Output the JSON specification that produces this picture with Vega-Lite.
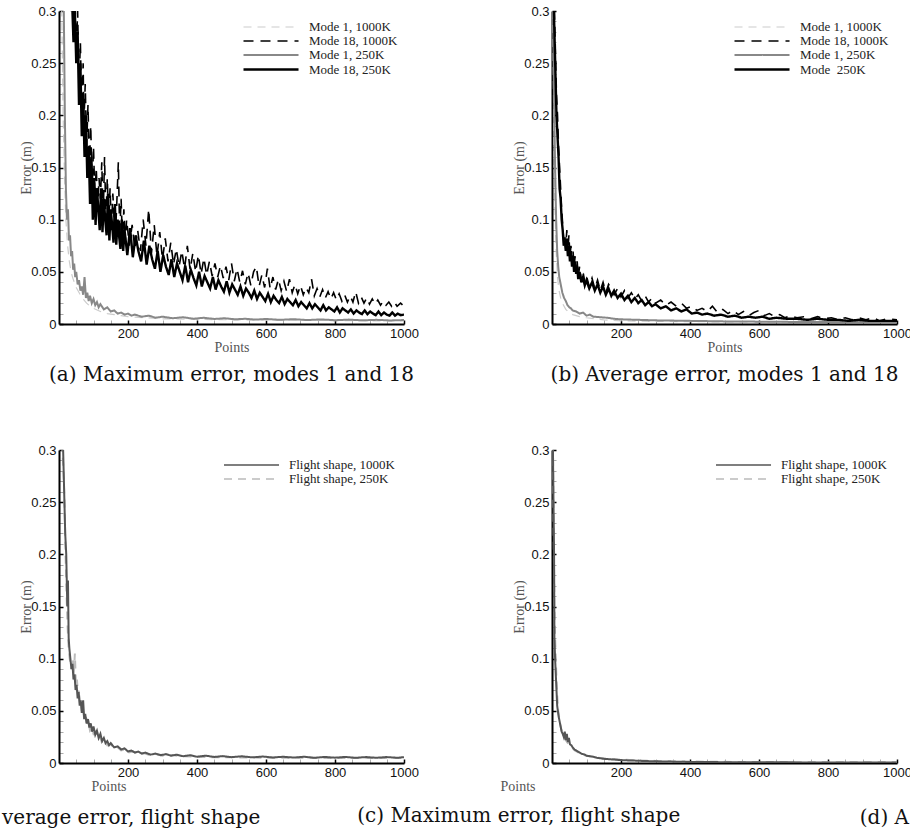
{
  "$schema": "https://vega.github.io/schema/vega-lite/v6.json",
  "padding": {"left": 2, "top": 5, "right": 0, "bottom": 0},
  "background": "white",
  "config": {
    "view": {"stroke": null},
    "font": "Liberation Sans",
    "title": {"font": "DejaVu Serif", "fontSize": 20, "fontWeight": "normal", "color": "#111"},
    "axis": {
      "domainColor": "#000", "domainWidth": 2,
      "tickSize": -4, "labelPadding": 7, "labelFont": "Liberation Sans", "labelFontSize": 13,
      "labelColor": "#111", "labelFlush": false, "labelOverlap": false, "grid": false, "titleFont": "Liberation Serif", "titleFontSize": 14,
      "titleFontWeight": "normal", "titleColor": "#555"
    },
    "legend": {
      "title": null, "symbolType": "M-1,0H8.17", "symbolSize": 144,
      "labelFont": "Liberation Serif", "labelFontSize": 13, "labelColor": "#222", "rowPadding": 0,
      "labelOffset": 52, "padding": 0
    },
    "line": {"clip": true}
  },
  "datasets": {
    "a": [
      {"s":"Mode 1, 1000K","x":3,"y":0.45},{"s":"Mode 1, 1000K","x":8,"y":0.3},{"s":"Mode 1, 1000K","x":12,"y":0.2},{"s":"Mode 1, 1000K","x":16,"y":0.14},{"s":"Mode 1, 1000K","x":20,"y":0.1},{"s":"Mode 1, 1000K","x":25,"y":0.075},{"s":"Mode 1, 1000K","x":30,"y":0.06},{"s":"Mode 1, 1000K","x":35,"y":0.05},{"s":"Mode 1, 1000K","x":40,"y":0.044},{"s":"Mode 1, 1000K","x":50,"y":0.035},{"s":"Mode 1, 1000K","x":60,"y":0.029},{"s":"Mode 1, 1000K","x":70,"y":0.024},{"s":"Mode 1, 1000K","x":80,"y":0.02},{"s":"Mode 1, 1000K","x":90,"y":0.017},{"s":"Mode 1, 1000K","x":100,"y":0.015},{"s":"Mode 1, 1000K","x":120,"y":0.012},{"s":"Mode 1, 1000K","x":140,"y":0.01},{"s":"Mode 1, 1000K","x":160,"y":0.009},{"s":"Mode 1, 1000K","x":180,"y":0.008},{"s":"Mode 1, 1000K","x":200,"y":0.007},{"s":"Mode 1, 1000K","x":250,"y":0.006},{"s":"Mode 1, 1000K","x":300,"y":0.005},{"s":"Mode 1, 1000K","x":400,"y":0.0045},{"s":"Mode 1, 1000K","x":500,"y":0.004},{"s":"Mode 1, 1000K","x":600,"y":0.0038},{"s":"Mode 1, 1000K","x":700,"y":0.0035},{"s":"Mode 1, 1000K","x":800,"y":0.0033},{"s":"Mode 1, 1000K","x":900,"y":0.003},{"s":"Mode 1, 1000K","x":1000,"y":0.003},
      {"s":"Mode 1, 250K","x":10,"y":0.35},{"s":"Mode 1, 250K","x":14,"y":0.3},{"s":"Mode 1, 250K","x":17,"y":0.2},{"s":"Mode 1, 250K","x":20,"y":0.13},{"s":"Mode 1, 250K","x":23,"y":0.1},{"s":"Mode 1, 250K","x":26,"y":0.11},{"s":"Mode 1, 250K","x":29,"y":0.08},{"s":"Mode 1, 250K","x":32,"y":0.085},{"s":"Mode 1, 250K","x":35,"y":0.065},{"s":"Mode 1, 250K","x":38,"y":0.07},{"s":"Mode 1, 250K","x":41,"y":0.052},{"s":"Mode 1, 250K","x":44,"y":0.058},{"s":"Mode 1, 250K","x":47,"y":0.045},{"s":"Mode 1, 250K","x":50,"y":0.05},{"s":"Mode 1, 250K","x":54,"y":0.038},{"s":"Mode 1, 250K","x":58,"y":0.042},{"s":"Mode 1, 250K","x":62,"y":0.032},{"s":"Mode 1, 250K","x":66,"y":0.036},{"s":"Mode 1, 250K","x":70,"y":0.028},{"s":"Mode 1, 250K","x":74,"y":0.045},{"s":"Mode 1, 250K","x":78,"y":0.025},{"s":"Mode 1, 250K","x":82,"y":0.03},{"s":"Mode 1, 250K","x":86,"y":0.022},{"s":"Mode 1, 250K","x":90,"y":0.027},{"s":"Mode 1, 250K","x":95,"y":0.02},{"s":"Mode 1, 250K","x":100,"y":0.024},{"s":"Mode 1, 250K","x":105,"y":0.018},{"s":"Mode 1, 250K","x":110,"y":0.021},{"s":"Mode 1, 250K","x":115,"y":0.016},{"s":"Mode 1, 250K","x":120,"y":0.019},{"s":"Mode 1, 250K","x":130,"y":0.014},{"s":"Mode 1, 250K","x":140,"y":0.016},{"s":"Mode 1, 250K","x":150,"y":0.012},{"s":"Mode 1, 250K","x":160,"y":0.013},{"s":"Mode 1, 250K","x":170,"y":0.01},{"s":"Mode 1, 250K","x":180,"y":0.011},{"s":"Mode 1, 250K","x":190,"y":0.009},{"s":"Mode 1, 250K","x":200,"y":0.01},{"s":"Mode 1, 250K","x":210,"y":0.008},{"s":"Mode 1, 250K","x":220,"y":0.009},{"s":"Mode 1, 250K","x":240,"y":0.007},{"s":"Mode 1, 250K","x":260,"y":0.008},{"s":"Mode 1, 250K","x":280,"y":0.006},{"s":"Mode 1, 250K","x":300,"y":0.007},{"s":"Mode 1, 250K","x":330,"y":0.0055},{"s":"Mode 1, 250K","x":360,"y":0.0065},{"s":"Mode 1, 250K","x":390,"y":0.005},{"s":"Mode 1, 250K","x":420,"y":0.006},{"s":"Mode 1, 250K","x":450,"y":0.0048},{"s":"Mode 1, 250K","x":480,"y":0.0055},{"s":"Mode 1, 250K","x":510,"y":0.0045},{"s":"Mode 1, 250K","x":540,"y":0.005},{"s":"Mode 1, 250K","x":570,"y":0.0042},{"s":"Mode 1, 250K","x":600,"y":0.0048},{"s":"Mode 1, 250K","x":640,"y":0.004},{"s":"Mode 1, 250K","x":680,"y":0.0046},{"s":"Mode 1, 250K","x":720,"y":0.0038},{"s":"Mode 1, 250K","x":760,"y":0.0044},{"s":"Mode 1, 250K","x":800,"y":0.0036},{"s":"Mode 1, 250K","x":840,"y":0.0042},{"s":"Mode 1, 250K","x":880,"y":0.0035},{"s":"Mode 1, 250K","x":920,"y":0.004},{"s":"Mode 1, 250K","x":960,"y":0.0034},{"s":"Mode 1, 250K","x":1000,"y":0.0038},
      {"s":"Mode 18, 1000K","x":30,"y":0.42},{"s":"Mode 18, 1000K","x":34,"y":0.32},{"s":"Mode 18, 1000K","x":38,"y":0.33},{"s":"Mode 18, 1000K","x":42,"y":0.28},{"s":"Mode 18, 1000K","x":46,"y":0.31},{"s":"Mode 18, 1000K","x":50,"y":0.26},{"s":"Mode 18, 1000K","x":54,"y":0.3},{"s":"Mode 18, 1000K","x":58,"y":0.23},{"s":"Mode 18, 1000K","x":62,"y":0.27},{"s":"Mode 18, 1000K","x":66,"y":0.2},{"s":"Mode 18, 1000K","x":70,"y":0.25},{"s":"Mode 18, 1000K","x":72,"y":0.19},{"s":"Mode 18, 1000K","x":76,"y":0.23},{"s":"Mode 18, 1000K","x":80,"y":0.17},{"s":"Mode 18, 1000K","x":84,"y":0.21},{"s":"Mode 18, 1000K","x":88,"y":0.15},{"s":"Mode 18, 1000K","x":92,"y":0.19},{"s":"Mode 18, 1000K","x":96,"y":0.13},{"s":"Mode 18, 1000K","x":100,"y":0.17},{"s":"Mode 18, 1000K","x":104,"y":0.12},{"s":"Mode 18, 1000K","x":108,"y":0.15},{"s":"Mode 18, 1000K","x":112,"y":0.11},{"s":"Mode 18, 1000K","x":116,"y":0.14},{"s":"Mode 18, 1000K","x":120,"y":0.12},{"s":"Mode 18, 1000K","x":124,"y":0.155},{"s":"Mode 18, 1000K","x":128,"y":0.1},{"s":"Mode 18, 1000K","x":132,"y":0.16},{"s":"Mode 18, 1000K","x":136,"y":0.1},{"s":"Mode 18, 1000K","x":140,"y":0.14},{"s":"Mode 18, 1000K","x":144,"y":0.095},{"s":"Mode 18, 1000K","x":148,"y":0.13},{"s":"Mode 18, 1000K","x":152,"y":0.09},{"s":"Mode 18, 1000K","x":156,"y":0.125},{"s":"Mode 18, 1000K","x":160,"y":0.1},{"s":"Mode 18, 1000K","x":164,"y":0.088},{"s":"Mode 18, 1000K","x":168,"y":0.12},{"s":"Mode 18, 1000K","x":172,"y":0.155},{"s":"Mode 18, 1000K","x":176,"y":0.085},{"s":"Mode 18, 1000K","x":180,"y":0.12},{"s":"Mode 18, 1000K","x":184,"y":0.08},{"s":"Mode 18, 1000K","x":188,"y":0.11},{"s":"Mode 18, 1000K","x":192,"y":0.078},{"s":"Mode 18, 1000K","x":196,"y":0.1},{"s":"Mode 18, 1000K","x":204,"y":0.075},{"s":"Mode 18, 1000K","x":212,"y":0.095},{"s":"Mode 18, 1000K","x":220,"y":0.072},{"s":"Mode 18, 1000K","x":228,"y":0.09},{"s":"Mode 18, 1000K","x":236,"y":0.07},{"s":"Mode 18, 1000K","x":244,"y":0.1},{"s":"Mode 18, 1000K","x":252,"y":0.075},{"s":"Mode 18, 1000K","x":260,"y":0.11},{"s":"Mode 18, 1000K","x":268,"y":0.068},{"s":"Mode 18, 1000K","x":276,"y":0.095},{"s":"Mode 18, 1000K","x":284,"y":0.065},{"s":"Mode 18, 1000K","x":292,"y":0.088},{"s":"Mode 18, 1000K","x":300,"y":0.062},{"s":"Mode 18, 1000K","x":308,"y":0.082},{"s":"Mode 18, 1000K","x":316,"y":0.06},{"s":"Mode 18, 1000K","x":324,"y":0.078},{"s":"Mode 18, 1000K","x":332,"y":0.057},{"s":"Mode 18, 1000K","x":340,"y":0.072},{"s":"Mode 18, 1000K","x":348,"y":0.055},{"s":"Mode 18, 1000K","x":356,"y":0.07},{"s":"Mode 18, 1000K","x":364,"y":0.053},{"s":"Mode 18, 1000K","x":372,"y":0.075},{"s":"Mode 18, 1000K","x":380,"y":0.052},{"s":"Mode 18, 1000K","x":388,"y":0.068},{"s":"Mode 18, 1000K","x":396,"y":0.05},{"s":"Mode 18, 1000K","x":404,"y":0.066},{"s":"Mode 18, 1000K","x":412,"y":0.048},{"s":"Mode 18, 1000K","x":420,"y":0.063},{"s":"Mode 18, 1000K","x":428,"y":0.047},{"s":"Mode 18, 1000K","x":436,"y":0.06},{"s":"Mode 18, 1000K","x":444,"y":0.046},{"s":"Mode 18, 1000K","x":452,"y":0.058},{"s":"Mode 18, 1000K","x":460,"y":0.045},{"s":"Mode 18, 1000K","x":468,"y":0.056},{"s":"Mode 18, 1000K","x":476,"y":0.044},{"s":"Mode 18, 1000K","x":484,"y":0.055},{"s":"Mode 18, 1000K","x":492,"y":0.042},{"s":"Mode 18, 1000K","x":500,"y":0.058},{"s":"Mode 18, 1000K","x":508,"y":0.041},{"s":"Mode 18, 1000K","x":516,"y":0.053},{"s":"Mode 18, 1000K","x":524,"y":0.04},{"s":"Mode 18, 1000K","x":532,"y":0.051},{"s":"Mode 18, 1000K","x":540,"y":0.038},{"s":"Mode 18, 1000K","x":548,"y":0.049},{"s":"Mode 18, 1000K","x":556,"y":0.037},{"s":"Mode 18, 1000K","x":564,"y":0.05},{"s":"Mode 18, 1000K","x":572,"y":0.055},{"s":"Mode 18, 1000K","x":580,"y":0.036},{"s":"Mode 18, 1000K","x":588,"y":0.047},{"s":"Mode 18, 1000K","x":596,"y":0.035},{"s":"Mode 18, 1000K","x":604,"y":0.053},{"s":"Mode 18, 1000K","x":612,"y":0.034},{"s":"Mode 18, 1000K","x":620,"y":0.045},{"s":"Mode 18, 1000K","x":628,"y":0.033},{"s":"Mode 18, 1000K","x":636,"y":0.043},{"s":"Mode 18, 1000K","x":644,"y":0.032},{"s":"Mode 18, 1000K","x":652,"y":0.041},{"s":"Mode 18, 1000K","x":660,"y":0.031},{"s":"Mode 18, 1000K","x":668,"y":0.043},{"s":"Mode 18, 1000K","x":676,"y":0.03},{"s":"Mode 18, 1000K","x":684,"y":0.038},{"s":"Mode 18, 1000K","x":692,"y":0.029},{"s":"Mode 18, 1000K","x":700,"y":0.037},{"s":"Mode 18, 1000K","x":708,"y":0.028},{"s":"Mode 18, 1000K","x":716,"y":0.035},{"s":"Mode 18, 1000K","x":724,"y":0.03},{"s":"Mode 18, 1000K","x":732,"y":0.043},{"s":"Mode 18, 1000K","x":740,"y":0.027},{"s":"Mode 18, 1000K","x":748,"y":0.034},{"s":"Mode 18, 1000K","x":756,"y":0.026},{"s":"Mode 18, 1000K","x":764,"y":0.033},{"s":"Mode 18, 1000K","x":772,"y":0.025},{"s":"Mode 18, 1000K","x":780,"y":0.031},{"s":"Mode 18, 1000K","x":788,"y":0.024},{"s":"Mode 18, 1000K","x":796,"y":0.03},{"s":"Mode 18, 1000K","x":804,"y":0.023},{"s":"Mode 18, 1000K","x":812,"y":0.029},{"s":"Mode 18, 1000K","x":820,"y":0.022},{"s":"Mode 18, 1000K","x":828,"y":0.028},{"s":"Mode 18, 1000K","x":836,"y":0.021},{"s":"Mode 18, 1000K","x":844,"y":0.027},{"s":"Mode 18, 1000K","x":852,"y":0.021},{"s":"Mode 18, 1000K","x":860,"y":0.031},{"s":"Mode 18, 1000K","x":868,"y":0.02},{"s":"Mode 18, 1000K","x":876,"y":0.026},{"s":"Mode 18, 1000K","x":884,"y":0.02},{"s":"Mode 18, 1000K","x":892,"y":0.025},{"s":"Mode 18, 1000K","x":900,"y":0.019},{"s":"Mode 18, 1000K","x":908,"y":0.024},{"s":"Mode 18, 1000K","x":916,"y":0.019},{"s":"Mode 18, 1000K","x":924,"y":0.023},{"s":"Mode 18, 1000K","x":932,"y":0.018},{"s":"Mode 18, 1000K","x":940,"y":0.022},{"s":"Mode 18, 1000K","x":948,"y":0.018},{"s":"Mode 18, 1000K","x":956,"y":0.021},{"s":"Mode 18, 1000K","x":964,"y":0.017},{"s":"Mode 18, 1000K","x":972,"y":0.021},{"s":"Mode 18, 1000K","x":980,"y":0.017},{"s":"Mode 18, 1000K","x":990,"y":0.02},{"s":"Mode 18, 1000K","x":1000,"y":0.017},
      {"s":"Mode 18, 250K","x":30,"y":0.4},{"s":"Mode 18, 250K","x":34,"y":0.3},{"s":"Mode 18, 250K","x":38,"y":0.31},{"s":"Mode 18, 250K","x":42,"y":0.27},{"s":"Mode 18, 250K","x":46,"y":0.3},{"s":"Mode 18, 250K","x":50,"y":0.25},{"s":"Mode 18, 250K","x":54,"y":0.28},{"s":"Mode 18, 250K","x":58,"y":0.21},{"s":"Mode 18, 250K","x":62,"y":0.25},{"s":"Mode 18, 250K","x":66,"y":0.18},{"s":"Mode 18, 250K","x":70,"y":0.22},{"s":"Mode 18, 250K","x":74,"y":0.16},{"s":"Mode 18, 250K","x":78,"y":0.2},{"s":"Mode 18, 250K","x":82,"y":0.14},{"s":"Mode 18, 250K","x":86,"y":0.17},{"s":"Mode 18, 250K","x":90,"y":0.115},{"s":"Mode 18, 250K","x":94,"y":0.16},{"s":"Mode 18, 250K","x":98,"y":0.1},{"s":"Mode 18, 250K","x":102,"y":0.14},{"s":"Mode 18, 250K","x":106,"y":0.095},{"s":"Mode 18, 250K","x":110,"y":0.13},{"s":"Mode 18, 250K","x":114,"y":0.11},{"s":"Mode 18, 250K","x":118,"y":0.09},{"s":"Mode 18, 250K","x":122,"y":0.13},{"s":"Mode 18, 250K","x":126,"y":0.088},{"s":"Mode 18, 250K","x":130,"y":0.12},{"s":"Mode 18, 250K","x":134,"y":0.1},{"s":"Mode 18, 250K","x":138,"y":0.085},{"s":"Mode 18, 250K","x":142,"y":0.125},{"s":"Mode 18, 250K","x":146,"y":0.08},{"s":"Mode 18, 250K","x":150,"y":0.11},{"s":"Mode 18, 250K","x":154,"y":0.095},{"s":"Mode 18, 250K","x":158,"y":0.078},{"s":"Mode 18, 250K","x":162,"y":0.115},{"s":"Mode 18, 250K","x":166,"y":0.076},{"s":"Mode 18, 250K","x":170,"y":0.1},{"s":"Mode 18, 250K","x":174,"y":0.085},{"s":"Mode 18, 250K","x":178,"y":0.072},{"s":"Mode 18, 250K","x":182,"y":0.1},{"s":"Mode 18, 250K","x":186,"y":0.07},{"s":"Mode 18, 250K","x":190,"y":0.09},{"s":"Mode 18, 250K","x":194,"y":0.078},{"s":"Mode 18, 250K","x":198,"y":0.066},{"s":"Mode 18, 250K","x":206,"y":0.092},{"s":"Mode 18, 250K","x":214,"y":0.064},{"s":"Mode 18, 250K","x":222,"y":0.085},{"s":"Mode 18, 250K","x":230,"y":0.07},{"s":"Mode 18, 250K","x":238,"y":0.06},{"s":"Mode 18, 250K","x":246,"y":0.08},{"s":"Mode 18, 250K","x":254,"y":0.057},{"s":"Mode 18, 250K","x":262,"y":0.075},{"s":"Mode 18, 250K","x":270,"y":0.062},{"s":"Mode 18, 250K","x":278,"y":0.053},{"s":"Mode 18, 250K","x":286,"y":0.07},{"s":"Mode 18, 250K","x":294,"y":0.05},{"s":"Mode 18, 250K","x":302,"y":0.066},{"s":"Mode 18, 250K","x":310,"y":0.055},{"s":"Mode 18, 250K","x":318,"y":0.047},{"s":"Mode 18, 250K","x":326,"y":0.062},{"s":"Mode 18, 250K","x":334,"y":0.045},{"s":"Mode 18, 250K","x":342,"y":0.058},{"s":"Mode 18, 250K","x":350,"y":0.05},{"s":"Mode 18, 250K","x":358,"y":0.042},{"s":"Mode 18, 250K","x":366,"y":0.056},{"s":"Mode 18, 250K","x":374,"y":0.04},{"s":"Mode 18, 250K","x":382,"y":0.052},{"s":"Mode 18, 250K","x":390,"y":0.044},{"s":"Mode 18, 250K","x":398,"y":0.037},{"s":"Mode 18, 250K","x":406,"y":0.05},{"s":"Mode 18, 250K","x":414,"y":0.036},{"s":"Mode 18, 250K","x":422,"y":0.046},{"s":"Mode 18, 250K","x":430,"y":0.04},{"s":"Mode 18, 250K","x":438,"y":0.034},{"s":"Mode 18, 250K","x":446,"y":0.045},{"s":"Mode 18, 250K","x":454,"y":0.033},{"s":"Mode 18, 250K","x":462,"y":0.042},{"s":"Mode 18, 250K","x":470,"y":0.036},{"s":"Mode 18, 250K","x":478,"y":0.031},{"s":"Mode 18, 250K","x":486,"y":0.041},{"s":"Mode 18, 250K","x":494,"y":0.03},{"s":"Mode 18, 250K","x":502,"y":0.038},{"s":"Mode 18, 250K","x":510,"y":0.033},{"s":"Mode 18, 250K","x":518,"y":0.028},{"s":"Mode 18, 250K","x":526,"y":0.036},{"s":"Mode 18, 250K","x":534,"y":0.027},{"s":"Mode 18, 250K","x":542,"y":0.034},{"s":"Mode 18, 250K","x":550,"y":0.03},{"s":"Mode 18, 250K","x":558,"y":0.025},{"s":"Mode 18, 250K","x":566,"y":0.032},{"s":"Mode 18, 250K","x":574,"y":0.024},{"s":"Mode 18, 250K","x":582,"y":0.03},{"s":"Mode 18, 250K","x":590,"y":0.026},{"s":"Mode 18, 250K","x":598,"y":0.022},{"s":"Mode 18, 250K","x":606,"y":0.029},{"s":"Mode 18, 250K","x":614,"y":0.021},{"s":"Mode 18, 250K","x":622,"y":0.027},{"s":"Mode 18, 250K","x":630,"y":0.023},{"s":"Mode 18, 250K","x":638,"y":0.02},{"s":"Mode 18, 250K","x":646,"y":0.026},{"s":"Mode 18, 250K","x":654,"y":0.019},{"s":"Mode 18, 250K","x":662,"y":0.024},{"s":"Mode 18, 250K","x":670,"y":0.021},{"s":"Mode 18, 250K","x":678,"y":0.018},{"s":"Mode 18, 250K","x":686,"y":0.023},{"s":"Mode 18, 250K","x":694,"y":0.017},{"s":"Mode 18, 250K","x":702,"y":0.021},{"s":"Mode 18, 250K","x":710,"y":0.018},{"s":"Mode 18, 250K","x":718,"y":0.015},{"s":"Mode 18, 250K","x":726,"y":0.02},{"s":"Mode 18, 250K","x":734,"y":0.015},{"s":"Mode 18, 250K","x":742,"y":0.019},{"s":"Mode 18, 250K","x":750,"y":0.016},{"s":"Mode 18, 250K","x":758,"y":0.013},{"s":"Mode 18, 250K","x":766,"y":0.018},{"s":"Mode 18, 250K","x":774,"y":0.013},{"s":"Mode 18, 250K","x":782,"y":0.016},{"s":"Mode 18, 250K","x":790,"y":0.014},{"s":"Mode 18, 250K","x":798,"y":0.012},{"s":"Mode 18, 250K","x":806,"y":0.016},{"s":"Mode 18, 250K","x":814,"y":0.011},{"s":"Mode 18, 250K","x":822,"y":0.015},{"s":"Mode 18, 250K","x":830,"y":0.013},{"s":"Mode 18, 250K","x":838,"y":0.011},{"s":"Mode 18, 250K","x":846,"y":0.014},{"s":"Mode 18, 250K","x":854,"y":0.01},{"s":"Mode 18, 250K","x":862,"y":0.013},{"s":"Mode 18, 250K","x":870,"y":0.011},{"s":"Mode 18, 250K","x":878,"y":0.0095},{"s":"Mode 18, 250K","x":886,"y":0.013},{"s":"Mode 18, 250K","x":894,"y":0.0095},{"s":"Mode 18, 250K","x":902,"y":0.012},{"s":"Mode 18, 250K","x":910,"y":0.01},{"s":"Mode 18, 250K","x":918,"y":0.0085},{"s":"Mode 18, 250K","x":926,"y":0.012},{"s":"Mode 18, 250K","x":934,"y":0.0085},{"s":"Mode 18, 250K","x":942,"y":0.011},{"s":"Mode 18, 250K","x":950,"y":0.009},{"s":"Mode 18, 250K","x":958,"y":0.008},{"s":"Mode 18, 250K","x":966,"y":0.011},{"s":"Mode 18, 250K","x":974,"y":0.008},{"s":"Mode 18, 250K","x":982,"y":0.01},{"s":"Mode 18, 250K","x":990,"y":0.0085},{"s":"Mode 18, 250K","x":1000,"y":0.009}
    ],
    "b": [
      {"s":"Mode 1, 1000K","x":2,"y":0.3},{"s":"Mode 1, 1000K","x":5,"y":0.2},{"s":"Mode 1, 1000K","x":8,"y":0.12},{"s":"Mode 1, 1000K","x":12,"y":0.07},{"s":"Mode 1, 1000K","x":16,"y":0.045},{"s":"Mode 1, 1000K","x":20,"y":0.033},{"s":"Mode 1, 1000K","x":25,"y":0.025},{"s":"Mode 1, 1000K","x":30,"y":0.02},{"s":"Mode 1, 1000K","x":40,"y":0.014},{"s":"Mode 1, 1000K","x":50,"y":0.011},{"s":"Mode 1, 1000K","x":60,"y":0.009},{"s":"Mode 1, 1000K","x":80,"y":0.007},{"s":"Mode 1, 1000K","x":100,"y":0.006},{"s":"Mode 1, 1000K","x":150,"y":0.004},{"s":"Mode 1, 1000K","x":200,"y":0.003},{"s":"Mode 1, 1000K","x":300,"y":0.0025},{"s":"Mode 1, 1000K","x":500,"y":0.002},{"s":"Mode 1, 1000K","x":700,"y":0.0018},{"s":"Mode 1, 1000K","x":1000,"y":0.0015},
      {"s":"Mode 1, 250K","x":3,"y":0.3},{"s":"Mode 1, 250K","x":6,"y":0.22},{"s":"Mode 1, 250K","x":9,"y":0.15},{"s":"Mode 1, 250K","x":12,"y":0.1},{"s":"Mode 1, 250K","x":15,"y":0.07},{"s":"Mode 1, 250K","x":18,"y":0.055},{"s":"Mode 1, 250K","x":21,"y":0.045},{"s":"Mode 1, 250K","x":24,"y":0.04},{"s":"Mode 1, 250K","x":27,"y":0.035},{"s":"Mode 1, 250K","x":30,"y":0.03},{"s":"Mode 1, 250K","x":35,"y":0.025},{"s":"Mode 1, 250K","x":40,"y":0.022},{"s":"Mode 1, 250K","x":45,"y":0.018},{"s":"Mode 1, 250K","x":50,"y":0.016},{"s":"Mode 1, 250K","x":55,"y":0.015},{"s":"Mode 1, 250K","x":60,"y":0.013},{"s":"Mode 1, 250K","x":70,"y":0.012},{"s":"Mode 1, 250K","x":80,"y":0.01},{"s":"Mode 1, 250K","x":90,"y":0.011},{"s":"Mode 1, 250K","x":100,"y":0.008},{"s":"Mode 1, 250K","x":110,"y":0.009},{"s":"Mode 1, 250K","x":120,"y":0.007},{"s":"Mode 1, 250K","x":140,"y":0.0065},{"s":"Mode 1, 250K","x":160,"y":0.006},{"s":"Mode 1, 250K","x":180,"y":0.005},{"s":"Mode 1, 250K","x":200,"y":0.0045},{"s":"Mode 1, 250K","x":250,"y":0.004},{"s":"Mode 1, 250K","x":300,"y":0.0035},{"s":"Mode 1, 250K","x":400,"y":0.003},{"s":"Mode 1, 250K","x":500,"y":0.0025},{"s":"Mode 1, 250K","x":700,"y":0.002},{"s":"Mode 1, 250K","x":1000,"y":0.0018},
      {"s":"Mode 18, 1000K","x":4,"y":0.35},{"s":"Mode 18, 1000K","x":7,"y":0.3},{"s":"Mode 18, 1000K","x":10,"y":0.26},{"s":"Mode 18, 1000K","x":13,"y":0.22},{"s":"Mode 18, 1000K","x":16,"y":0.2},{"s":"Mode 18, 1000K","x":19,"y":0.17},{"s":"Mode 18, 1000K","x":22,"y":0.15},{"s":"Mode 18, 1000K","x":25,"y":0.13},{"s":"Mode 18, 1000K","x":28,"y":0.11},{"s":"Mode 18, 1000K","x":31,"y":0.095},{"s":"Mode 18, 1000K","x":34,"y":0.08},{"s":"Mode 18, 1000K","x":37,"y":0.085},{"s":"Mode 18, 1000K","x":40,"y":0.075},{"s":"Mode 18, 1000K","x":43,"y":0.09},{"s":"Mode 18, 1000K","x":46,"y":0.07},{"s":"Mode 18, 1000K","x":49,"y":0.085},{"s":"Mode 18, 1000K","x":52,"y":0.065},{"s":"Mode 18, 1000K","x":55,"y":0.075},{"s":"Mode 18, 1000K","x":58,"y":0.06},{"s":"Mode 18, 1000K","x":61,"y":0.07},{"s":"Mode 18, 1000K","x":64,"y":0.055},{"s":"Mode 18, 1000K","x":67,"y":0.065},{"s":"Mode 18, 1000K","x":70,"y":0.05},{"s":"Mode 18, 1000K","x":73,"y":0.06},{"s":"Mode 18, 1000K","x":76,"y":0.045},{"s":"Mode 18, 1000K","x":80,"y":0.055},{"s":"Mode 18, 1000K","x":85,"y":0.042},{"s":"Mode 18, 1000K","x":90,"y":0.05},{"s":"Mode 18, 1000K","x":95,"y":0.04},{"s":"Mode 18, 1000K","x":100,"y":0.046},{"s":"Mode 18, 1000K","x":108,"y":0.036},{"s":"Mode 18, 1000K","x":116,"y":0.044},{"s":"Mode 18, 1000K","x":124,"y":0.034},{"s":"Mode 18, 1000K","x":132,"y":0.042},{"s":"Mode 18, 1000K","x":140,"y":0.032},{"s":"Mode 18, 1000K","x":148,"y":0.04},{"s":"Mode 18, 1000K","x":156,"y":0.03},{"s":"Mode 18, 1000K","x":164,"y":0.038},{"s":"Mode 18, 1000K","x":172,"y":0.034},{"s":"Mode 18, 1000K","x":180,"y":0.028},{"s":"Mode 18, 1000K","x":190,"y":0.034},{"s":"Mode 18, 1000K","x":200,"y":0.026},{"s":"Mode 18, 1000K","x":210,"y":0.032},{"s":"Mode 18, 1000K","x":220,"y":0.025},{"s":"Mode 18, 1000K","x":230,"y":0.03},{"s":"Mode 18, 1000K","x":240,"y":0.024},{"s":"Mode 18, 1000K","x":250,"y":0.028},{"s":"Mode 18, 1000K","x":260,"y":0.022},{"s":"Mode 18, 1000K","x":270,"y":0.027},{"s":"Mode 18, 1000K","x":280,"y":0.021},{"s":"Mode 18, 1000K","x":290,"y":0.025},{"s":"Mode 18, 1000K","x":300,"y":0.02},{"s":"Mode 18, 1000K","x":315,"y":0.023},{"s":"Mode 18, 1000K","x":330,"y":0.018},{"s":"Mode 18, 1000K","x":345,"y":0.021},{"s":"Mode 18, 1000K","x":360,"y":0.017},{"s":"Mode 18, 1000K","x":375,"y":0.02},{"s":"Mode 18, 1000K","x":390,"y":0.015},{"s":"Mode 18, 1000K","x":405,"y":0.017},{"s":"Mode 18, 1000K","x":420,"y":0.013},{"s":"Mode 18, 1000K","x":435,"y":0.015},{"s":"Mode 18, 1000K","x":450,"y":0.012},{"s":"Mode 18, 1000K","x":465,"y":0.017},{"s":"Mode 18, 1000K","x":480,"y":0.011},{"s":"Mode 18, 1000K","x":495,"y":0.014},{"s":"Mode 18, 1000K","x":510,"y":0.01},{"s":"Mode 18, 1000K","x":525,"y":0.013},{"s":"Mode 18, 1000K","x":540,"y":0.009},{"s":"Mode 18, 1000K","x":555,"y":0.012},{"s":"Mode 18, 1000K","x":570,"y":0.008},{"s":"Mode 18, 1000K","x":585,"y":0.011},{"s":"Mode 18, 1000K","x":600,"y":0.013},{"s":"Mode 18, 1000K","x":615,"y":0.008},{"s":"Mode 18, 1000K","x":630,"y":0.01},{"s":"Mode 18, 1000K","x":645,"y":0.007},{"s":"Mode 18, 1000K","x":660,"y":0.009},{"s":"Mode 18, 1000K","x":675,"y":0.006},{"s":"Mode 18, 1000K","x":690,"y":0.008},{"s":"Mode 18, 1000K","x":710,"y":0.006},{"s":"Mode 18, 1000K","x":730,"y":0.007},{"s":"Mode 18, 1000K","x":750,"y":0.005},{"s":"Mode 18, 1000K","x":770,"y":0.007},{"s":"Mode 18, 1000K","x":790,"y":0.005},{"s":"Mode 18, 1000K","x":810,"y":0.006},{"s":"Mode 18, 1000K","x":830,"y":0.004},{"s":"Mode 18, 1000K","x":850,"y":0.006},{"s":"Mode 18, 1000K","x":870,"y":0.004},{"s":"Mode 18, 1000K","x":890,"y":0.006},{"s":"Mode 18, 1000K","x":910,"y":0.004},{"s":"Mode 18, 1000K","x":930,"y":0.006},{"s":"Mode 18, 1000K","x":950,"y":0.003},{"s":"Mode 18, 1000K","x":970,"y":0.005},{"s":"Mode 18, 1000K","x":1000,"y":0.004},
      {"s":"Mode \u00a0250K","x":4,"y":0.32},{"s":"Mode \u00a0250K","x":7,"y":0.28},{"s":"Mode \u00a0250K","x":10,"y":0.24},{"s":"Mode \u00a0250K","x":13,"y":0.2},{"s":"Mode \u00a0250K","x":16,"y":0.18},{"s":"Mode \u00a0250K","x":19,"y":0.16},{"s":"Mode \u00a0250K","x":22,"y":0.13},{"s":"Mode \u00a0250K","x":25,"y":0.12},{"s":"Mode \u00a0250K","x":28,"y":0.1},{"s":"Mode \u00a0250K","x":31,"y":0.09},{"s":"Mode \u00a0250K","x":34,"y":0.075},{"s":"Mode \u00a0250K","x":37,"y":0.08},{"s":"Mode \u00a0250K","x":40,"y":0.07},{"s":"Mode \u00a0250K","x":43,"y":0.082},{"s":"Mode \u00a0250K","x":46,"y":0.065},{"s":"Mode \u00a0250K","x":49,"y":0.075},{"s":"Mode \u00a0250K","x":52,"y":0.06},{"s":"Mode \u00a0250K","x":55,"y":0.07},{"s":"Mode \u00a0250K","x":58,"y":0.055},{"s":"Mode \u00a0250K","x":61,"y":0.065},{"s":"Mode \u00a0250K","x":64,"y":0.05},{"s":"Mode \u00a0250K","x":67,"y":0.06},{"s":"Mode \u00a0250K","x":70,"y":0.048},{"s":"Mode \u00a0250K","x":73,"y":0.055},{"s":"Mode \u00a0250K","x":76,"y":0.043},{"s":"Mode \u00a0250K","x":80,"y":0.05},{"s":"Mode \u00a0250K","x":85,"y":0.04},{"s":"Mode \u00a0250K","x":90,"y":0.045},{"s":"Mode \u00a0250K","x":95,"y":0.037},{"s":"Mode \u00a0250K","x":100,"y":0.042},{"s":"Mode \u00a0250K","x":108,"y":0.034},{"s":"Mode \u00a0250K","x":116,"y":0.04},{"s":"Mode \u00a0250K","x":124,"y":0.032},{"s":"Mode \u00a0250K","x":132,"y":0.038},{"s":"Mode \u00a0250K","x":140,"y":0.03},{"s":"Mode \u00a0250K","x":148,"y":0.036},{"s":"Mode \u00a0250K","x":156,"y":0.028},{"s":"Mode \u00a0250K","x":164,"y":0.034},{"s":"Mode \u00a0250K","x":172,"y":0.027},{"s":"Mode \u00a0250K","x":180,"y":0.032},{"s":"Mode \u00a0250K","x":190,"y":0.025},{"s":"Mode \u00a0250K","x":200,"y":0.029},{"s":"Mode \u00a0250K","x":210,"y":0.023},{"s":"Mode \u00a0250K","x":220,"y":0.027},{"s":"Mode \u00a0250K","x":230,"y":0.021},{"s":"Mode \u00a0250K","x":240,"y":0.025},{"s":"Mode \u00a0250K","x":250,"y":0.02},{"s":"Mode \u00a0250K","x":260,"y":0.023},{"s":"Mode \u00a0250K","x":270,"y":0.018},{"s":"Mode \u00a0250K","x":280,"y":0.021},{"s":"Mode \u00a0250K","x":290,"y":0.017},{"s":"Mode \u00a0250K","x":300,"y":0.019},{"s":"Mode \u00a0250K","x":315,"y":0.015},{"s":"Mode \u00a0250K","x":330,"y":0.017},{"s":"Mode \u00a0250K","x":345,"y":0.013},{"s":"Mode \u00a0250K","x":360,"y":0.015},{"s":"Mode \u00a0250K","x":375,"y":0.012},{"s":"Mode \u00a0250K","x":390,"y":0.014},{"s":"Mode \u00a0250K","x":405,"y":0.01},{"s":"Mode \u00a0250K","x":420,"y":0.011},{"s":"Mode \u00a0250K","x":435,"y":0.009},{"s":"Mode \u00a0250K","x":450,"y":0.01},{"s":"Mode \u00a0250K","x":470,"y":0.008},{"s":"Mode \u00a0250K","x":490,"y":0.009},{"s":"Mode \u00a0250K","x":510,"y":0.007},{"s":"Mode \u00a0250K","x":530,"y":0.008},{"s":"Mode \u00a0250K","x":550,"y":0.006},{"s":"Mode \u00a0250K","x":570,"y":0.007},{"s":"Mode \u00a0250K","x":590,"y":0.006},{"s":"Mode \u00a0250K","x":610,"y":0.007},{"s":"Mode \u00a0250K","x":630,"y":0.005},{"s":"Mode \u00a0250K","x":650,"y":0.006},{"s":"Mode \u00a0250K","x":680,"y":0.005},{"s":"Mode \u00a0250K","x":710,"y":0.005},{"s":"Mode \u00a0250K","x":740,"y":0.004},{"s":"Mode \u00a0250K","x":770,"y":0.005},{"s":"Mode \u00a0250K","x":800,"y":0.004},{"s":"Mode \u00a0250K","x":830,"y":0.004},{"s":"Mode \u00a0250K","x":860,"y":0.003},{"s":"Mode \u00a0250K","x":890,"y":0.004},{"s":"Mode \u00a0250K","x":920,"y":0.003},{"s":"Mode \u00a0250K","x":950,"y":0.003},{"s":"Mode \u00a0250K","x":980,"y":0.003},{"s":"Mode \u00a0250K","x":1000,"y":0.003}
    ],
    "c": [
      {"s":"Flight shape, 250K","x":6,"y":0.4},{"s":"Flight shape, 250K","x":10,"y":0.3},{"s":"Flight shape, 250K","x":13,"y":0.28},{"s":"Flight shape, 250K","x":16,"y":0.25},{"s":"Flight shape, 250K","x":19,"y":0.2},{"s":"Flight shape, 250K","x":22,"y":0.16},{"s":"Flight shape, 250K","x":25,"y":0.13},{"s":"Flight shape, 250K","x":28,"y":0.11},{"s":"Flight shape, 250K","x":31,"y":0.1},{"s":"Flight shape, 250K","x":34,"y":0.095},{"s":"Flight shape, 250K","x":37,"y":0.09},{"s":"Flight shape, 250K","x":40,"y":0.1},{"s":"Flight shape, 250K","x":43,"y":0.085},{"s":"Flight shape, 250K","x":46,"y":0.105},{"s":"Flight shape, 250K","x":49,"y":0.075},{"s":"Flight shape, 250K","x":52,"y":0.08},{"s":"Flight shape, 250K","x":55,"y":0.065},{"s":"Flight shape, 250K","x":58,"y":0.07},{"s":"Flight shape, 250K","x":61,"y":0.055},{"s":"Flight shape, 250K","x":64,"y":0.058},{"s":"Flight shape, 250K","x":67,"y":0.047},{"s":"Flight shape, 250K","x":70,"y":0.05},{"s":"Flight shape, 250K","x":74,"y":0.04},{"s":"Flight shape, 250K","x":78,"y":0.044},{"s":"Flight shape, 250K","x":82,"y":0.035},{"s":"Flight shape, 250K","x":86,"y":0.038},{"s":"Flight shape, 250K","x":90,"y":0.031},{"s":"Flight shape, 250K","x":95,"y":0.033},{"s":"Flight shape, 250K","x":100,"y":0.028},{"s":"Flight shape, 250K","x":106,"y":0.03},{"s":"Flight shape, 250K","x":112,"y":0.024},{"s":"Flight shape, 250K","x":118,"y":0.026},{"s":"Flight shape, 250K","x":124,"y":0.02},{"s":"Flight shape, 250K","x":130,"y":0.022},{"s":"Flight shape, 250K","x":140,"y":0.017},{"s":"Flight shape, 250K","x":150,"y":0.018},{"s":"Flight shape, 250K","x":160,"y":0.014},{"s":"Flight shape, 250K","x":170,"y":0.015},{"s":"Flight shape, 250K","x":180,"y":0.012},{"s":"Flight shape, 250K","x":190,"y":0.013},{"s":"Flight shape, 250K","x":200,"y":0.01},{"s":"Flight shape, 250K","x":215,"y":0.011},{"s":"Flight shape, 250K","x":230,"y":0.009},{"s":"Flight shape, 250K","x":245,"y":0.0095},{"s":"Flight shape, 250K","x":260,"y":0.008},{"s":"Flight shape, 250K","x":280,"y":0.0085},{"s":"Flight shape, 250K","x":300,"y":0.007},{"s":"Flight shape, 250K","x":330,"y":0.0075},{"s":"Flight shape, 250K","x":360,"y":0.0065},{"s":"Flight shape, 250K","x":400,"y":0.006},{"s":"Flight shape, 250K","x":450,"y":0.0055},{"s":"Flight shape, 250K","x":500,"y":0.0055},{"s":"Flight shape, 250K","x":600,"y":0.005},{"s":"Flight shape, 250K","x":700,"y":0.005},{"s":"Flight shape, 250K","x":800,"y":0.0048},{"s":"Flight shape, 250K","x":900,"y":0.0048},{"s":"Flight shape, 250K","x":1000,"y":0.0047},
      {"s":"Flight shape, 1000K","x":8,"y":0.35},{"s":"Flight shape, 1000K","x":12,"y":0.3},{"s":"Flight shape, 1000K","x":15,"y":0.26},{"s":"Flight shape, 1000K","x":18,"y":0.22},{"s":"Flight shape, 1000K","x":21,"y":0.2},{"s":"Flight shape, 1000K","x":24,"y":0.15},{"s":"Flight shape, 1000K","x":26,"y":0.175},{"s":"Flight shape, 1000K","x":28,"y":0.12},{"s":"Flight shape, 1000K","x":30,"y":0.11},{"s":"Flight shape, 1000K","x":33,"y":0.1},{"s":"Flight shape, 1000K","x":36,"y":0.09},{"s":"Flight shape, 1000K","x":39,"y":0.095},{"s":"Flight shape, 1000K","x":42,"y":0.08},{"s":"Flight shape, 1000K","x":45,"y":0.085},{"s":"Flight shape, 1000K","x":48,"y":0.07},{"s":"Flight shape, 1000K","x":51,"y":0.075},{"s":"Flight shape, 1000K","x":54,"y":0.062},{"s":"Flight shape, 1000K","x":57,"y":0.068},{"s":"Flight shape, 1000K","x":60,"y":0.055},{"s":"Flight shape, 1000K","x":63,"y":0.06},{"s":"Flight shape, 1000K","x":66,"y":0.048},{"s":"Flight shape, 1000K","x":70,"y":0.06},{"s":"Flight shape, 1000K","x":73,"y":0.042},{"s":"Flight shape, 1000K","x":76,"y":0.047},{"s":"Flight shape, 1000K","x":80,"y":0.038},{"s":"Flight shape, 1000K","x":84,"y":0.042},{"s":"Flight shape, 1000K","x":88,"y":0.034},{"s":"Flight shape, 1000K","x":92,"y":0.038},{"s":"Flight shape, 1000K","x":96,"y":0.03},{"s":"Flight shape, 1000K","x":100,"y":0.035},{"s":"Flight shape, 1000K","x":105,"y":0.027},{"s":"Flight shape, 1000K","x":110,"y":0.031},{"s":"Flight shape, 1000K","x":115,"y":0.024},{"s":"Flight shape, 1000K","x":120,"y":0.028},{"s":"Flight shape, 1000K","x":125,"y":0.021},{"s":"Flight shape, 1000K","x":130,"y":0.024},{"s":"Flight shape, 1000K","x":135,"y":0.019},{"s":"Flight shape, 1000K","x":140,"y":0.021},{"s":"Flight shape, 1000K","x":145,"y":0.017},{"s":"Flight shape, 1000K","x":150,"y":0.019},{"s":"Flight shape, 1000K","x":160,"y":0.015},{"s":"Flight shape, 1000K","x":170,"y":0.016},{"s":"Flight shape, 1000K","x":180,"y":0.013},{"s":"Flight shape, 1000K","x":190,"y":0.014},{"s":"Flight shape, 1000K","x":200,"y":0.011},{"s":"Flight shape, 1000K","x":210,"y":0.012},{"s":"Flight shape, 1000K","x":220,"y":0.01},{"s":"Flight shape, 1000K","x":230,"y":0.011},{"s":"Flight shape, 1000K","x":240,"y":0.009},{"s":"Flight shape, 1000K","x":250,"y":0.01},{"s":"Flight shape, 1000K","x":265,"y":0.008},{"s":"Flight shape, 1000K","x":280,"y":0.009},{"s":"Flight shape, 1000K","x":295,"y":0.0075},{"s":"Flight shape, 1000K","x":310,"y":0.0085},{"s":"Flight shape, 1000K","x":325,"y":0.007},{"s":"Flight shape, 1000K","x":340,"y":0.008},{"s":"Flight shape, 1000K","x":360,"y":0.0065},{"s":"Flight shape, 1000K","x":380,"y":0.0075},{"s":"Flight shape, 1000K","x":400,"y":0.006},{"s":"Flight shape, 1000K","x":425,"y":0.007},{"s":"Flight shape, 1000K","x":450,"y":0.0058},{"s":"Flight shape, 1000K","x":475,"y":0.0066},{"s":"Flight shape, 1000K","x":500,"y":0.0056},{"s":"Flight shape, 1000K","x":530,"y":0.0064},{"s":"Flight shape, 1000K","x":560,"y":0.0054},{"s":"Flight shape, 1000K","x":590,"y":0.0062},{"s":"Flight shape, 1000K","x":620,"y":0.0053},{"s":"Flight shape, 1000K","x":650,"y":0.006},{"s":"Flight shape, 1000K","x":680,"y":0.0052},{"s":"Flight shape, 1000K","x":710,"y":0.006},{"s":"Flight shape, 1000K","x":740,"y":0.005},{"s":"Flight shape, 1000K","x":770,"y":0.0058},{"s":"Flight shape, 1000K","x":800,"y":0.0051},{"s":"Flight shape, 1000K","x":830,"y":0.0058},{"s":"Flight shape, 1000K","x":860,"y":0.005},{"s":"Flight shape, 1000K","x":890,"y":0.0057},{"s":"Flight shape, 1000K","x":920,"y":0.005},{"s":"Flight shape, 1000K","x":950,"y":0.0057},{"s":"Flight shape, 1000K","x":980,"y":0.005},{"s":"Flight shape, 1000K","x":1000,"y":0.0056}
    ],
    "d": [
      {"s":"Flight shape, 250K","x":1,"y":0.4},{"s":"Flight shape, 250K","x":3,"y":0.3},{"s":"Flight shape, 250K","x":5,"y":0.22},{"s":"Flight shape, 250K","x":7,"y":0.15},{"s":"Flight shape, 250K","x":9,"y":0.12},{"s":"Flight shape, 250K","x":11,"y":0.1},{"s":"Flight shape, 250K","x":13,"y":0.08},{"s":"Flight shape, 250K","x":15,"y":0.065},{"s":"Flight shape, 250K","x":18,"y":0.05},{"s":"Flight shape, 250K","x":21,"y":0.043},{"s":"Flight shape, 250K","x":24,"y":0.037},{"s":"Flight shape, 250K","x":27,"y":0.032},{"s":"Flight shape, 250K","x":30,"y":0.029},{"s":"Flight shape, 250K","x":34,"y":0.026},{"s":"Flight shape, 250K","x":38,"y":0.023},{"s":"Flight shape, 250K","x":42,"y":0.021},{"s":"Flight shape, 250K","x":46,"y":0.019},{"s":"Flight shape, 250K","x":50,"y":0.017},{"s":"Flight shape, 250K","x":55,"y":0.015},{"s":"Flight shape, 250K","x":60,"y":0.014},{"s":"Flight shape, 250K","x":66,"y":0.012},{"s":"Flight shape, 250K","x":72,"y":0.011},{"s":"Flight shape, 250K","x":80,"y":0.0095},{"s":"Flight shape, 250K","x":90,"y":0.008},{"s":"Flight shape, 250K","x":100,"y":0.007},{"s":"Flight shape, 250K","x":115,"y":0.006},{"s":"Flight shape, 250K","x":130,"y":0.0052},{"s":"Flight shape, 250K","x":150,"y":0.0045},{"s":"Flight shape, 250K","x":175,"y":0.0038},{"s":"Flight shape, 250K","x":200,"y":0.0032},{"s":"Flight shape, 250K","x":250,"y":0.0025},{"s":"Flight shape, 250K","x":300,"y":0.002},{"s":"Flight shape, 250K","x":400,"y":0.0014},{"s":"Flight shape, 250K","x":500,"y":0.0011},{"s":"Flight shape, 250K","x":700,"y":0.0008},{"s":"Flight shape, 250K","x":1000,"y":0.0006},
      {"s":"Flight shape, 1000K","x":2,"y":0.32},{"s":"Flight shape, 1000K","x":4,"y":0.26},{"s":"Flight shape, 1000K","x":6,"y":0.2},{"s":"Flight shape, 1000K","x":7,"y":0.12},{"s":"Flight shape, 1000K","x":9,"y":0.1},{"s":"Flight shape, 1000K","x":11,"y":0.085},{"s":"Flight shape, 1000K","x":13,"y":0.07},{"s":"Flight shape, 1000K","x":15,"y":0.055},{"s":"Flight shape, 1000K","x":17,"y":0.05},{"s":"Flight shape, 1000K","x":19,"y":0.045},{"s":"Flight shape, 1000K","x":22,"y":0.04},{"s":"Flight shape, 1000K","x":25,"y":0.035},{"s":"Flight shape, 1000K","x":28,"y":0.03},{"s":"Flight shape, 1000K","x":31,"y":0.028},{"s":"Flight shape, 1000K","x":34,"y":0.025},{"s":"Flight shape, 1000K","x":37,"y":0.03},{"s":"Flight shape, 1000K","x":40,"y":0.022},{"s":"Flight shape, 1000K","x":43,"y":0.028},{"s":"Flight shape, 1000K","x":46,"y":0.02},{"s":"Flight shape, 1000K","x":49,"y":0.024},{"s":"Flight shape, 1000K","x":52,"y":0.018},{"s":"Flight shape, 1000K","x":56,"y":0.017},{"s":"Flight shape, 1000K","x":60,"y":0.015},{"s":"Flight shape, 1000K","x":65,"y":0.013},{"s":"Flight shape, 1000K","x":70,"y":0.012},{"s":"Flight shape, 1000K","x":75,"y":0.011},{"s":"Flight shape, 1000K","x":80,"y":0.01},{"s":"Flight shape, 1000K","x":85,"y":0.009},{"s":"Flight shape, 1000K","x":90,"y":0.0085},{"s":"Flight shape, 1000K","x":95,"y":0.008},{"s":"Flight shape, 1000K","x":100,"y":0.007},{"s":"Flight shape, 1000K","x":110,"y":0.0065},{"s":"Flight shape, 1000K","x":120,"y":0.006},{"s":"Flight shape, 1000K","x":130,"y":0.005},{"s":"Flight shape, 1000K","x":140,"y":0.0045},{"s":"Flight shape, 1000K","x":150,"y":0.004},{"s":"Flight shape, 1000K","x":160,"y":0.0038},{"s":"Flight shape, 1000K","x":170,"y":0.0035},{"s":"Flight shape, 1000K","x":180,"y":0.0033},{"s":"Flight shape, 1000K","x":190,"y":0.003},{"s":"Flight shape, 1000K","x":200,"y":0.0028},{"s":"Flight shape, 1000K","x":220,"y":0.0025},{"s":"Flight shape, 1000K","x":240,"y":0.0023},{"s":"Flight shape, 1000K","x":260,"y":0.002},{"s":"Flight shape, 1000K","x":280,"y":0.0018},{"s":"Flight shape, 1000K","x":300,"y":0.0016},{"s":"Flight shape, 1000K","x":350,"y":0.0013},{"s":"Flight shape, 1000K","x":400,"y":0.001},{"s":"Flight shape, 1000K","x":500,"y":0.0008},{"s":"Flight shape, 1000K","x":600,"y":0.0007},{"s":"Flight shape, 1000K","x":700,"y":0.0006},{"s":"Flight shape, 1000K","x":800,"y":0.0005},{"s":"Flight shape, 1000K","x":900,"y":0.0005},{"s":"Flight shape, 1000K","x":1000,"y":0.0005}
    ]
  },
  "columns": 2,
  "spacing": {"row": 126, "column": 148},
  "bounds": "flush",
  "resolve": {
    "scale": {"x": "independent", "y": "independent", "color": "independent", "strokeDash": "independent", "strokeWidth": "independent"},
    "legend": {"color": "independent", "strokeDash": "independent", "strokeWidth": "independent"}
  },
  "title": {"text": "(c) Maximum error, flight shape", "orient": "bottom", "anchor": "middle", "offset": -22, "dx": 62},
  "concat": [
    {
      "width": 345, "height": 313,
      "data": {"name": "a"},
      "title": {"text": "(a) Maximum error, modes 1 and 18", "orient": "bottom", "anchor": "middle", "frame": "group", "offset": 11},
      "mark": {"type": "line", "clip": true},
      "encoding": {
        "x": {"field": "x", "type": "quantitative", "scale": {"domain": [0, 1000], "nice": false}, "axis": {"values": [50, 100, 150, 200, 250, 300, 350, 400, 450, 500, 550, 600, 650, 700, 750, 800, 850, 900, 950, 1000], "labelExpr": "datum.value % 200 === 0 ? datum.label : ''", "format": "d", "title": "Points", "titlePadding": 0, "tickColor": {"condition": {"test": "datum.value % 200 === 0", "value": "#000"}, "value": "#aaaaaa"}, "tickWidth": {"condition": {"test": "datum.value % 200 === 0", "value": 1.5}, "value": 1}}},
        "y": {"field": "y", "type": "quantitative", "scale": {"domain": [0, 0.3], "nice": false}, "axis": {"values": [0, 0.01, 0.02, 0.03, 0.04, 0.05, 0.06, 0.07, 0.08, 0.09, 0.1, 0.11, 0.12, 0.13, 0.14, 0.15, 0.16, 0.17, 0.18, 0.19, 0.2, 0.21, 0.22, 0.23, 0.24, 0.25, 0.26, 0.27, 0.28, 0.29, 0.3], "labelExpr": "round(datum.value * 100) % 5 === 0 ? datum.label : ''", "format": "~g", "title": "Error (m)", "titlePadding": -3, "tickColor": {"condition": {"test": "round(datum.value * 100) % 5 === 0", "value": "#000"}, "value": "#aaaaaa"}, "tickWidth": {"condition": {"test": "round(datum.value * 100) % 5 === 0", "value": 1.5}, "value": 1}}},
        "color": {"field": "s", "type": "nominal", "scale": {"domain": ["Mode 1, 1000K", "Mode 18, 1000K", "Mode 1, 250K", "Mode 18, 250K"], "range": ["#cccccc", "#000000", "#888888", "#000000"]}, "legend": {"orient": "none", "legendX": 183, "legendY": 9}},
        "strokeDash": {"field": "s", "type": "nominal", "scale": {"domain": ["Mode 1, 1000K", "Mode 18, 1000K", "Mode 1, 250K", "Mode 18, 250K"], "range": [[8, 6], [10, 7], [1, 0], [1, 0]]}},
        "strokeWidth": {"field": "s", "type": "nominal", "scale": {"domain": ["Mode 1, 1000K", "Mode 18, 1000K", "Mode 1, 250K", "Mode 18, 250K"], "range": [1.2, 2.4, 1, 2.4]}}
      }
    },
    {
      "width": 345, "height": 313,
      "data": {"name": "b"},
      "title": {"text": "(b) Average error, modes 1 and 18", "orient": "bottom", "anchor": "middle", "frame": "group", "offset": 11},
      "mark": {"type": "line", "clip": true},
      "encoding": {
        "x": {"field": "x", "type": "quantitative", "scale": {"domain": [0, 1000], "nice": false}, "axis": {"values": [50, 100, 150, 200, 250, 300, 350, 400, 450, 500, 550, 600, 650, 700, 750, 800, 850, 900, 950, 1000], "labelExpr": "datum.value % 200 === 0 ? datum.label : ''", "format": "d", "title": "Points", "titlePadding": 0, "tickColor": {"condition": {"test": "datum.value % 200 === 0", "value": "#000"}, "value": "#aaaaaa"}, "tickWidth": {"condition": {"test": "datum.value % 200 === 0", "value": 1.5}, "value": 1}}},
        "y": {"field": "y", "type": "quantitative", "scale": {"domain": [0, 0.3], "nice": false}, "axis": {"values": [0, 0.01, 0.02, 0.03, 0.04, 0.05, 0.06, 0.07, 0.08, 0.09, 0.1, 0.11, 0.12, 0.13, 0.14, 0.15, 0.16, 0.17, 0.18, 0.19, 0.2, 0.21, 0.22, 0.23, 0.24, 0.25, 0.26, 0.27, 0.28, 0.29, 0.3], "labelExpr": "round(datum.value * 100) % 5 === 0 ? datum.label : ''", "format": "~g", "title": "Error (m)", "titlePadding": -3, "tickColor": {"condition": {"test": "round(datum.value * 100) % 5 === 0", "value": "#000"}, "value": "#aaaaaa"}, "tickWidth": {"condition": {"test": "round(datum.value * 100) % 5 === 0", "value": 1.5}, "value": 1}}},
        "color": {"field": "s", "type": "nominal", "scale": {"domain": ["Mode 1, 1000K", "Mode 18, 1000K", "Mode 1, 250K", "Mode \u00a0250K"], "range": ["#cccccc", "#000000", "#888888", "#000000"]}, "legend": {"orient": "none", "legendX": 181, "legendY": 9}},
        "strokeDash": {"field": "s", "type": "nominal", "scale": {"domain": ["Mode 1, 1000K", "Mode 18, 1000K", "Mode 1, 250K", "Mode \u00a0250K"], "range": [[8, 6], [10, 7], [1, 0], [1, 0]]}},
        "strokeWidth": {"field": "s", "type": "nominal", "scale": {"domain": ["Mode 1, 1000K", "Mode 18, 1000K", "Mode 1, 250K", "Mode \u00a0250K"], "range": [1.2, 2.4, 1, 2.4]}}
      }
    },
    {
      "width": 345, "height": 313,
      "data": {"name": "c"},
      "title": {"text": "verage error, flight shape", "orient": "bottom", "anchor": "start", "frame": "group", "offset": 15, "dx": -57},
      "mark": {"type": "line", "clip": true},
      "encoding": {
        "x": {"field": "x", "type": "quantitative", "scale": {"domain": [0, 1000], "nice": false}, "axis": {"values": [50, 100, 150, 200, 250, 300, 350, 400, 450, 500, 550, 600, 650, 700, 750, 800, 850, 900, 950, 1000], "labelExpr": "datum.value % 200 === 0 ? datum.label : ''", "format": "d", "title": "Points", "titlePadding": 0, "titleX": 32, "titleAlign": "left", "tickColor": {"condition": {"test": "datum.value % 200 === 0", "value": "#000"}, "value": "#aaaaaa"}, "tickWidth": {"condition": {"test": "datum.value % 200 === 0", "value": 1.5}, "value": 1}}},
        "y": {"field": "y", "type": "quantitative", "scale": {"domain": [0, 0.3], "nice": false}, "axis": {"values": [0, 0.01, 0.02, 0.03, 0.04, 0.05, 0.06, 0.07, 0.08, 0.09, 0.1, 0.11, 0.12, 0.13, 0.14, 0.15, 0.16, 0.17, 0.18, 0.19, 0.2, 0.21, 0.22, 0.23, 0.24, 0.25, 0.26, 0.27, 0.28, 0.29, 0.3], "labelExpr": "round(datum.value * 100) % 5 === 0 ? datum.label : ''", "format": "~g", "title": "Error (m)", "titlePadding": -3, "tickColor": {"condition": {"test": "round(datum.value * 100) % 5 === 0", "value": "#000"}, "value": "#aaaaaa"}, "tickWidth": {"condition": {"test": "round(datum.value * 100) % 5 === 0", "value": 1.5}, "value": 1}}},
        "color": {"field": "s", "type": "nominal", "scale": {"domain": ["Flight shape, 1000K", "Flight shape, 250K"], "range": ["#555555", "#bbbbbb"]}, "legend": {"orient": "none", "legendX": 164, "legendY": 8}},
        "strokeDash": {"field": "s", "type": "nominal", "scale": {"domain": ["Flight shape, 1000K", "Flight shape, 250K"], "range": [[1, 0], [8, 6]]}}
      }
    },
    {
      "width": 345, "height": 313,
      "data": {"name": "d"},
      "title": {"text": "(d) A", "orient": "bottom", "anchor": "end", "frame": "group", "offset": 15, "dx": 12},
      "mark": {"type": "line", "clip": true},
      "encoding": {
        "x": {"field": "x", "type": "quantitative", "scale": {"domain": [0, 1000], "nice": false}, "axis": {"values": [50, 100, 150, 200, 250, 300, 350, 400, 450, 500, 550, 600, 650, 700, 750, 800, 850, 900, 950, 1000], "labelExpr": "datum.value % 200 === 0 ? datum.label : ''", "format": "d", "title": "Points", "titlePadding": 0, "titleX": -52, "titleAlign": "left", "tickColor": {"condition": {"test": "datum.value % 200 === 0", "value": "#000"}, "value": "#aaaaaa"}, "tickWidth": {"condition": {"test": "datum.value % 200 === 0", "value": 1.5}, "value": 1}}},
        "y": {"field": "y", "type": "quantitative", "scale": {"domain": [0, 0.3], "nice": false}, "axis": {"values": [0, 0.01, 0.02, 0.03, 0.04, 0.05, 0.06, 0.07, 0.08, 0.09, 0.1, 0.11, 0.12, 0.13, 0.14, 0.15, 0.16, 0.17, 0.18, 0.19, 0.2, 0.21, 0.22, 0.23, 0.24, 0.25, 0.26, 0.27, 0.28, 0.29, 0.3], "labelExpr": "round(datum.value * 100) % 5 === 0 ? datum.label : ''", "format": "~g", "title": "Error (m)", "titlePadding": -3, "tickColor": {"condition": {"test": "round(datum.value * 100) % 5 === 0", "value": "#000"}, "value": "#aaaaaa"}, "tickWidth": {"condition": {"test": "round(datum.value * 100) % 5 === 0", "value": 1.5}, "value": 1}}},
        "color": {"field": "s", "type": "nominal", "scale": {"domain": ["Flight shape, 1000K", "Flight shape, 250K"], "range": ["#555555", "#bbbbbb"]}, "legend": {"orient": "none", "legendX": 163, "legendY": 8}},
        "strokeDash": {"field": "s", "type": "nominal", "scale": {"domain": ["Flight shape, 1000K", "Flight shape, 250K"], "range": [[1, 0], [8, 6]]}}
      }
    }
  ]
}
